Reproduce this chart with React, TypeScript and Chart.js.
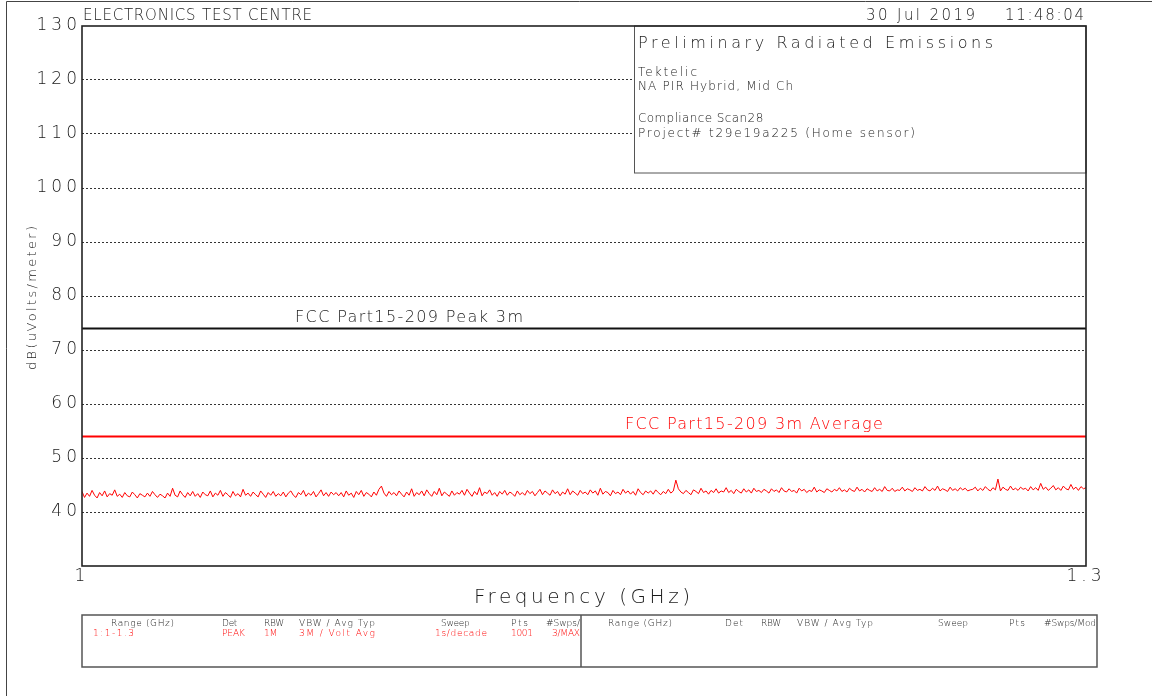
import React, { useEffect, useRef } from "react";
import { Chart, registerables } from "chart.js";

Chart.register(...registerables);

// ---- data ----
const freqStartGHz = 1.0;
const freqStopGHz = 1.3;
const yTickValues = [40, 50, 60, 70, 80, 90, 100, 110, 120, 130];
const xTickLabels = ["1", "1.3"];
const peakLimitDb = 74;
const avgLimitDb = 54;
const peakLimitLabel = "FCC Part15-209 Peak 3m";
const avgLimitLabel = "FCC Part15-209 3m Average";

// measured trace (dBuV/m), evenly spaced sweep points 1.0 -> 1.3 GHz
const traceDb = [
  43.8, 42.7, 43.5, 42.9, 44.0, 43.1, 42.6, 43.6, 43.0, 43.9, 42.8, 43.4, 43.1, 44.1, 42.9, 43.3, 42.7, 43.6, 43.0, 42.8, 43.7, 43.2, 42.6, 43.4, 43.1,
  42.8, 43.5, 42.9, 43.8, 43.2, 42.7, 43.3, 43.0, 42.6, 43.5, 42.9, 44.4, 43.1, 42.8, 43.9, 43.2, 42.7, 43.6, 43.0, 43.8, 42.9, 43.4, 42.7, 43.7, 43.2,
  43.0, 43.9, 42.8, 43.5, 43.1, 44.0, 42.9, 43.6, 43.2, 42.7, 43.8, 43.0, 43.4, 42.8, 44.2, 43.1, 43.5, 42.9, 43.7, 43.2, 42.8, 43.9, 43.3, 42.7, 43.6,
  43.1, 43.8, 42.9, 43.4, 43.0, 43.7, 42.8, 43.5, 43.9, 43.1, 42.7, 43.6, 43.2, 44.0, 42.9, 43.5, 43.1, 43.8, 42.8, 43.4, 44.1, 43.0, 43.6, 42.9, 43.7,
  43.2, 43.6, 43.0, 43.6, 42.8, 43.9, 43.1, 43.5, 42.7, 43.8, 43.2, 44.0, 42.9, 43.6, 43.3, 42.8, 43.7, 43.1, 44.2, 44.8, 43.5, 42.9, 43.8, 43.2, 43.6,
  43.0, 43.9, 43.3, 42.8, 43.7, 43.1, 44.3, 42.9, 43.6, 43.2, 43.9, 43.0, 44.1, 43.4, 42.9, 43.8, 43.2, 44.4, 43.0, 43.7, 43.3, 42.9, 43.9, 43.1, 43.6,
  43.3, 44.0, 43.1, 44.2, 43.5, 42.9, 43.8, 43.2, 44.5, 43.0, 43.7, 43.4, 44.1, 43.1, 43.6, 42.9, 43.8, 43.3, 44.0, 43.1, 43.7, 43.4, 42.9, 43.9, 43.2,
  43.6, 43.1, 44.0, 43.4, 43.8, 43.0, 43.6, 44.2, 43.2, 43.9, 43.5, 43.1, 44.1, 43.4, 43.8, 43.0, 43.7, 43.3, 44.3, 43.2, 43.9, 43.5, 43.1, 44.0, 43.4,
  43.7, 43.2, 44.1, 43.5, 43.9, 43.1, 44.4, 43.3, 43.8, 43.6, 43.0, 44.0, 43.4, 43.7, 43.2, 44.2, 43.5, 43.9, 43.3, 43.8, 43.1, 44.3, 43.6, 43.2, 43.9,
  43.5, 43.9, 43.3, 44.1, 43.6, 43.2, 43.8, 43.4, 44.2, 43.5, 43.9, 45.9, 44.3, 43.7, 43.4, 44.0, 43.6, 43.2, 44.1, 43.8, 43.4, 44.4, 43.6, 43.9, 43.3,
  44.0, 43.6, 44.3, 43.5, 43.9, 43.7, 44.5, 43.6, 44.0, 43.4, 44.2, 43.8, 43.5, 44.3, 43.7, 44.1, 43.5, 44.4, 43.8, 44.0, 43.6, 44.2, 43.9, 43.5, 44.3,
  43.8, 44.1, 43.6, 44.5, 43.9, 43.7, 44.3, 43.8, 44.0, 43.5, 44.4, 43.9, 44.2, 43.6, 44.0, 43.8, 44.6, 43.7, 44.1, 43.9, 43.6, 44.3, 44.0, 43.7, 44.2,
  43.9, 44.5, 43.8, 44.1, 43.7, 44.4, 44.0, 43.8, 44.6, 43.9, 44.2, 43.7, 44.3, 44.0, 43.8, 44.5, 43.9, 44.2, 43.8, 44.7, 44.0, 43.9, 44.4, 43.8, 44.1,
  44.0, 44.6, 43.9, 44.3, 44.1, 43.8, 44.5, 44.0, 44.2, 43.9, 44.7, 44.1, 43.9, 44.4, 44.0, 44.8, 43.9, 44.3, 44.1, 43.8, 44.6, 44.0, 44.3, 43.9, 44.5,
  44.1, 44.4, 43.9, 44.1, 44.2, 44.6, 43.9, 44.4, 44.0, 44.7, 44.2, 43.9, 44.5, 44.1, 46.1, 43.9, 44.6, 44.2, 44.0, 44.8, 44.1, 44.4, 44.0, 44.6, 44.2,
  44.4, 43.9, 44.7, 44.1, 44.5, 44.0, 45.3, 44.2, 44.6, 44.0, 44.4, 44.9, 44.1, 44.5, 44.0, 44.8, 44.3, 44.1, 45.1, 44.2, 44.6, 44.0, 44.7, 44.3, 44.5,
];

const headerTitle = "ELECTRONICS TEST CENTRE";
const headerDate = "30 Jul 2019";
const headerTime = "11:48:04";
const infoTitle = "Preliminary Radiated Emissions";
const infoLines = ["Tektelic", "NA PIR Hybrid, Mid Ch", "Compliance Scan28", "Project# t29e19a225 (Home sensor)"];
const xAxisTitle = "Frequency (GHz)";
const yAxisTitle = "dB(uVolts/meter)";
const tableHeaders = ["Range (GHz)", "Det", "RBW", "VBW / Avg Typ", "Sweep", "Pts", "#Swps/"];
const tableHeadersRight = ["Range (GHz)", "Det", "RBW", "VBW / Avg Typ", "Sweep", "Pts", "#Swps/Mod"];
const tableRow = ["1:1-1.3", "PEAK", "1M", "3M / Volt Avg", "1s/decade", "1001", "3/MAX"];

// ---- layout ----
const W = 1152;
const H = 696;
const FONT = "'DejaVu Sans'";
const INK = "#1a1a1a";
const RED = "#ff0000";

function drawFit(
  ctx: CanvasRenderingContext2D,
  text: string,
  x1: number,
  x2: number,
  baseline: number,
  size: number,
  color: string,
  minGap = 0.4
) {
  ctx.save();
  ctx.font = `200 ${size}px ${FONT}`;
  (ctx as any).letterSpacing = "0px";
  ctx.textAlign = "left";
  ctx.textBaseline = "alphabetic";
  const w = ctx.measureText(text).width;
  const n = text.length;
  let gap = n > 1 ? (x2 - x1 - w) / (n - 1) : 0;
  if (gap < minGap) gap = minGap;
  (ctx as any).letterSpacing = `${gap.toFixed(2)}px`;
  ctx.fillStyle = color;
  ctx.fillText(text, x1, baseline);
  ctx.restore();
}

const decorPlugin = {
  id: "decor",
  beforeDraw(chart: any) {
    (chart.ctx as any).letterSpacing = "4px";
  },
  afterDraw(chart: any) {
    const ctx: CanvasRenderingContext2D = chart.ctx;
    const { left, right, top, bottom } = chart.chartArea;
    ctx.save();
    (ctx as any).letterSpacing = "0px";

    // info box (opaque)
    ctx.fillStyle = "#fff";
    ctx.fillRect(634.5, top, right - 634.5, 173 - top);
    ctx.strokeStyle = "#555";
    ctx.lineWidth = 1;
    ctx.strokeRect(634.5, top, right - 634.5, 173 - top);

    // page frame
    ctx.strokeStyle = "#444";
    ctx.lineWidth = 1;
    ctx.beginPath();
    ctx.moveTo(6.5, H);
    ctx.lineTo(6.5, 1.5);
    ctx.lineTo(W, 1.5);
    ctx.stroke();

    // plot frame
    ctx.strokeStyle = "#222";
    ctx.lineWidth = 1.6;
    ctx.strokeRect(left, top, right - left, bottom - top);

    // table boxes
    ctx.strokeStyle = "#555";
    ctx.lineWidth = 1.5;
    ctx.strokeRect(82, 615, 1097 - 82, 667 - 615);
    ctx.beginPath();
    ctx.moveTo(581, 615);
    ctx.lineTo(581, 667);
    ctx.stroke();
    ctx.restore();

    // header
    drawFit(ctx, headerTitle, 83, 312, 20, 15, INK);
    drawFit(ctx, headerDate, 866, 975, 20, 15, INK);
    drawFit(ctx, headerTime, 1005, 1084, 20, 15, INK);

    // info
    drawFit(ctx, infoTitle, 638, 993, 47.5, 16, INK);
    drawFit(ctx, infoLines[0], 638, 697, 75.5, 12, INK);
    drawFit(ctx, infoLines[1], 638, 793, 90, 12, INK);
    drawFit(ctx, infoLines[2], 638, 763, 121.5, 12, INK);
    drawFit(ctx, infoLines[3], 638, 915, 137, 12, INK);

    // limit labels
    drawFit(ctx, peakLimitLabel, 295, 523, 322, 16, INK);
    drawFit(ctx, avgLimitLabel, 625, 883, 429, 16, RED);

    // axis titles
    drawFit(ctx, xAxisTitle, 474, 690, 603, 20, INK);
    ctx.save();
    ctx.translate(36, 370);
    ctx.rotate(-Math.PI / 2);
    drawFit(ctx, yAxisTitle, 0, 144, 0, 13, INK);
    ctx.restore();

    // table text
    const hl = [[111, 174], [222, 237], [264, 281], [299, 375], [441, 469], [511, 528], [546, 580]];
    const rl = [[93, 134], [222, 245], [264, 275], [299, 375], [435, 487], [511, 533], [552, 580]];
    const hr = [[608, 672], [725, 743], [761, 779], [797, 873], [938, 968], [1009, 1025], [1044, 1096]];
    tableHeaders.forEach((t, i) => drawFit(ctx, t, hl[i][0], hl[i][1], 625.5, 9, INK, -0.3));
    tableRow.forEach((t, i) => drawFit(ctx, t, rl[i][0], rl[i][1], 636, 9, RED, -0.3));
    tableHeadersRight.forEach((t, i) => drawFit(ctx, t, hr[i][0], hr[i][1], 625.5, 9, INK, -0.3));
  },
};

export default function App() {
  const ref = useRef<HTMLCanvasElement | null>(null);

  useEffect(() => {
    if (!ref.current) return;
    const tracePoints = traceDb.map((y, i) => ({
      x: freqStartGHz + (i * (freqStopGHz - freqStartGHz)) / (traceDb.length - 1),
      y,
    }));
    const tickFont = { family: FONT, size: 17, weight: "200" as any };

    const chart = new Chart(ref.current, {
      type: "line",
      data: {
        datasets: [
          {
            label: "trace",
            data: tracePoints,
            borderColor: RED,
            borderWidth: 1,
            pointRadius: 0,
            tension: 0,
          },
          {
            label: peakLimitLabel,
            data: [
              { x: freqStartGHz, y: peakLimitDb },
              { x: freqStopGHz, y: peakLimitDb },
            ],
            borderColor: "#111",
            borderWidth: 2,
            pointRadius: 0,
          },
          {
            label: avgLimitLabel,
            data: [
              { x: freqStartGHz, y: avgLimitDb },
              { x: freqStopGHz, y: avgLimitDb },
            ],
            borderColor: RED,
            borderWidth: 2,
            pointRadius: 0,
          },
        ],
      },
      options: {
        responsive: false,
        animation: false,
        events: [],
        layout: { padding: { top: 26, right: 66, bottom: 100, left: 0 } },
        plugins: { legend: { display: false }, tooltip: { enabled: false } },
        scales: {
          x: {
            type: "linear",
            min: freqStartGHz,
            max: freqStopGHz,
            afterFit: (s: any) => {
              s.height = 30;
            },
            afterBuildTicks: (s: any) => {
              s.ticks = [{ value: freqStartGHz }, { value: freqStopGHz }];
            },
            ticks: {
              autoSkip: false,
              maxRotation: 0,
              padding: 0,
              color: INK,
              font: tickFont,
              callback: (_v: any, i: number) => xTickLabels[i],
            },
            grid: { display: false, drawTicks: false },
            border: { display: false },
          },
          y: {
            type: "linear",
            min: 30,
            max: 130,
            afterFit: (s: any) => {
              s.width = 82;
            },
            afterBuildTicks: (s: any) => {
              s.ticks = yTickValues.map((v) => ({ value: v }));
            },
            ticks: {
              padding: 1,
              color: INK,
              font: tickFont,
              callback: (v: any) => String(v),
            },
            grid: {
              drawTicks: false,
              color: (c: any) => (c.tick && c.tick.value === 130 ? "rgba(0,0,0,0)" : "#333"),
              lineWidth: 1,
            },
            border: { display: false, dash: [2, 2] },
          },
        },
      },
      plugins: [decorPlugin],
    });
    return () => chart.destroy();
  }, []);

  return (
    <div style={{ position: "absolute", left: 0, top: 0, width: W, height: H, background: "#fff" }}>
      <canvas ref={ref} width={W} height={H} style={{ display: "block" }} />
    </div>
  );
}
